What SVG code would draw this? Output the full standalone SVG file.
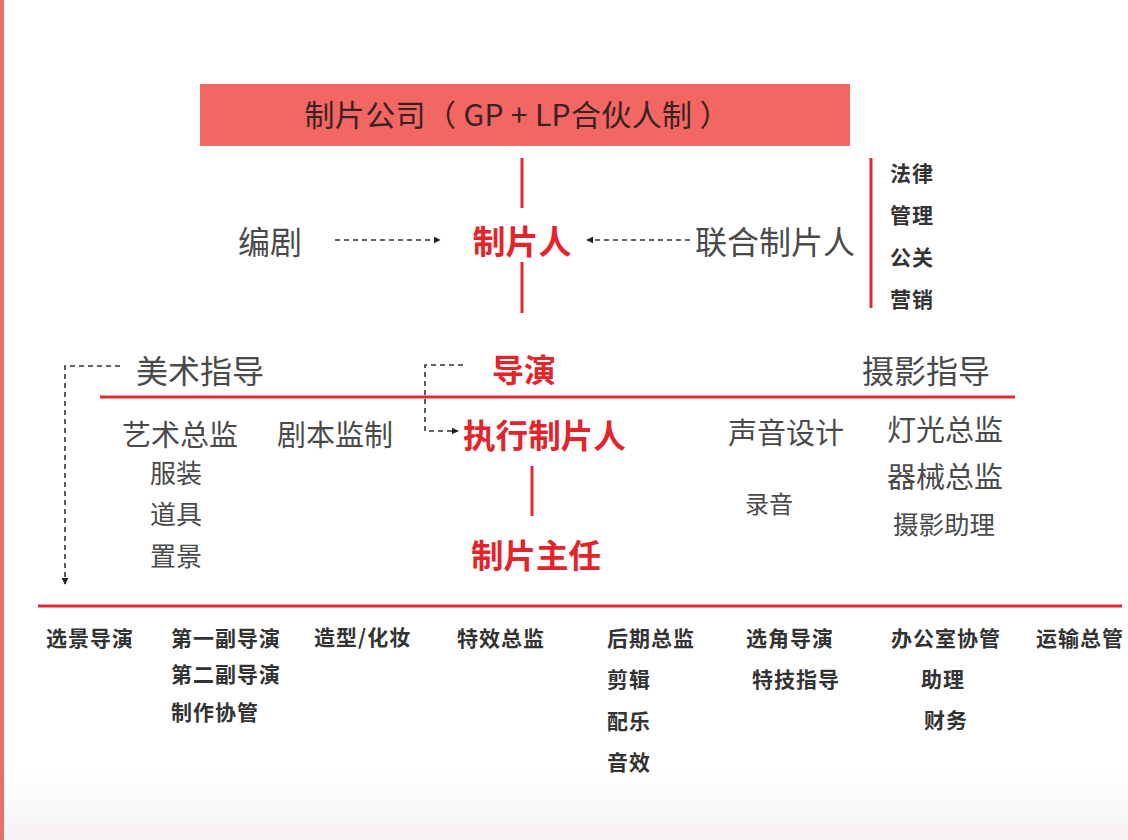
<svg xmlns="http://www.w3.org/2000/svg" width="1128" height="840" viewBox="0 0 1128 840">
<defs>
<linearGradient id="bg" x1="0" y1="0" x2="0" y2="1">
<stop offset="0" stop-color="#ffffff"/>
<stop offset="1" stop-color="#f6f2f3"/>
</linearGradient>
<marker id="ah" viewBox="0 0 10 10" refX="9" refY="5" markerWidth="7" markerHeight="7" orient="auto" markerUnits="userSpaceOnUse">
<path d="M0,0 L10,5 L0,10 z" fill="#222"/>
</marker>
<style>
text{font-family:"Noto Sans CJK SC","Noto Sans",sans-serif;dominant-baseline:central;}
.g{fill:#4a4a4a;}
.r{fill:#e3242b;font-weight:bold;}
.s{fill:#333;font-size:21px;font-weight:bold;letter-spacing:1px;}
.rl{stroke:#e02a33;stroke-width:3;fill:none;}
.dl{stroke:#333;stroke-width:1.6;stroke-dasharray:5 4;fill:none;}
</style>
</defs>
<rect width="1128" height="840" fill="#fff"/>
<rect x="0" y="770" width="1128" height="70" fill="url(#bg)"/>
<rect x="0" y="0" width="4" height="840" fill="#e07468"/>

<g id="company">
<rect x="200" y="84" width="650" height="62" fill="#f26663"/>
<text x="517" y="113" text-anchor="middle" font-size="30" fill="#3a2222" textLength="425">制片公司（ GP + LP合伙人制 ）</text>
</g>

<g id="connectors">
<line class="rl" x1="522" y1="158" x2="522" y2="208"/>
<line class="rl" x1="522" y1="262" x2="522" y2="313"/>
<line class="rl" x1="871" y1="158" x2="871" y2="308"/>
<line class="rl" x1="100" y1="397" x2="1015" y2="397" stroke-width="2.5"/>
<line class="rl" x1="532" y1="466" x2="532" y2="516"/>
<line class="rl" x1="38" y1="606" x2="1122" y2="606" stroke-width="2.5"/>
<line class="dl" x1="335" y1="240" x2="440" y2="240" marker-end="url(#ah)"/>
<line class="dl" x1="690" y1="240" x2="587" y2="240" marker-end="url(#ah)"/>
<polyline class="dl" points="120,366 65,366 65,584" marker-end="url(#ah)"/>
<polyline class="dl" points="463,365 425,365 425,431 458,431" marker-end="url(#ah)"/>
</g>

<g id="n-producer"><text class="r" x="522" y="240" font-size="33" text-anchor="middle">制片人</text></g>
<g id="n-writer"><text class="g" x="238" y="240" font-size="32">编剧</text></g>
<g id="n-coproducer"><text class="g" x="695" y="240" font-size="32">联合制片人</text></g>
<g id="n-coprod-roles">
<text class="s" x="890" y="172">法律</text>
<text class="s" x="890" y="214">管理</text>
<text class="s" x="890" y="256">公关</text>
<text class="s" x="890" y="298">营销</text>
</g>

<g id="n-artdirector"><text class="g" x="136" y="369" font-size="32">美术指导</text></g>
<g id="n-director"><text class="r" x="492" y="368" font-size="32">导演</text></g>
<g id="n-dop"><text class="g" x="862" y="369" font-size="32">摄影指导</text></g>

<g id="n-art-group">
<text class="g" x="122" y="433" font-size="29">艺术总监</text>
<text class="g" x="150" y="471" font-size="26">服装</text>
<text class="g" x="150" y="512" font-size="26">道具</text>
<text class="g" x="150" y="554" font-size="26">置景</text>
</g>
<g id="n-scriptsup"><text class="g" x="277" y="433" font-size="29">剧本监制</text></g>
<g id="n-lineproducer"><text class="r" x="463" y="433" font-size="32.6">执行制片人</text></g>
<g id="n-prodmanager"><text class="r" x="471" y="553" font-size="32.5">制片主任</text></g>
<g id="n-sound">
<text class="g" x="728" y="431" font-size="29">声音设计</text>
<text class="g" x="745" y="502" font-size="24">录音</text>
</g>
<g id="n-camera">
<text class="g" x="887" y="428" font-size="29">灯光总监</text>
<text class="g" x="887" y="475" font-size="29">器械总监</text>
<text class="g" x="893" y="522" font-size="25.5">摄影助理</text>
</g>

<g id="n-bottom">
<text class="s" x="46" y="637">选景导演</text>
<text class="s" x="171" y="637">第一副导演</text>
<text class="s" x="171" y="673">第二副导演</text>
<text class="s" x="171" y="711">制作协管</text>
<text class="s" x="314" y="636">造型/化妆</text>
<text class="s" x="457" y="637">特效总监</text>
<text class="s" x="607" y="637">后期总监</text>
<text class="s" x="607" y="678">剪辑</text>
<text class="s" x="607" y="720">配乐</text>
<text class="s" x="607" y="761">音效</text>
<text class="s" x="746" y="637">选角导演</text>
<text class="s" x="752" y="678">特技指导</text>
<text class="s" x="891" y="637">办公室协管</text>
<text class="s" x="921" y="678">助理</text>
<text class="s" x="924" y="719">财务</text>
<text class="s" x="1036" y="637">运输总管</text>
</g>
</svg>
